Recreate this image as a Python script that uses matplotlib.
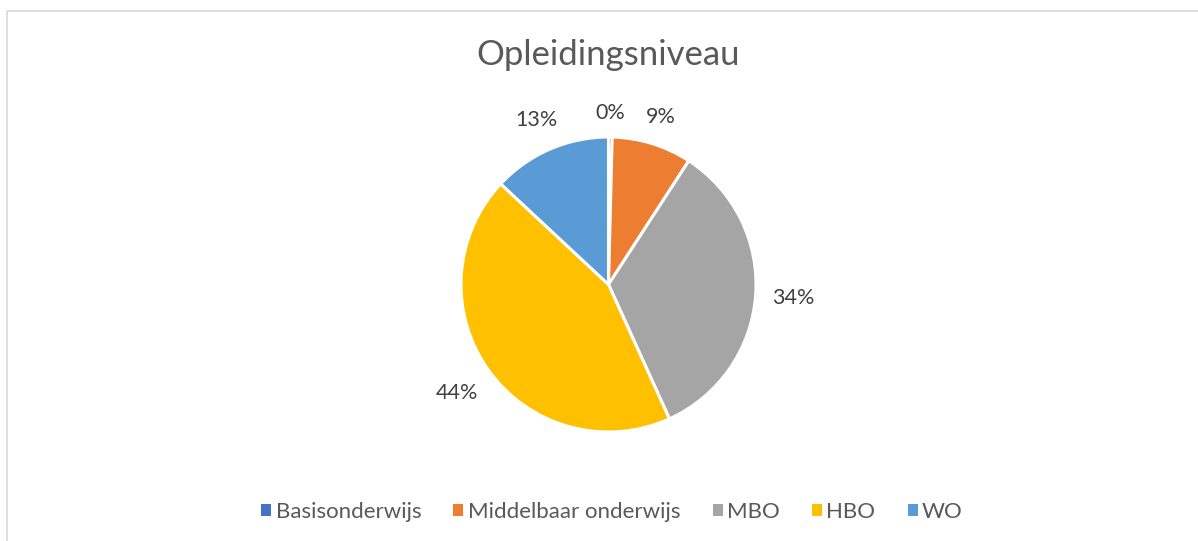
import numpy as np
import matplotlib.pyplot as plt
from matplotlib.patches import Rectangle

plt.rcParams['font.family'] = ['Lato', 'DejaVu Sans']

# categories and shares (percent)
labels = ['Basisonderwijs', 'Middelbaar onderwijs', 'MBO', 'HBO', 'WO']
shares = [0.4, 8.8, 34.2, 43.9, 13.1]
shown = ['0%', '9%', '34%', '44%', '13%']
colors = ['#4472C4', '#ED7D31', '#A5A5A5', '#FFC000', '#5B9BD5']

W, H = 1198, 541
fig = plt.figure(figsize=(W / 100, H / 100), dpi=100)

# light chart border (only top and left visible in the crop)
fig.patches.append(Rectangle((7 / W, -0.2), 2, (H - 11) / H + 0.2,
                             transform=fig.transFigure, fill=False,
                             edgecolor='#D9D9D9', linewidth=1.2))

cx, cy, r = 608.5, 284.5, 147.5
ax = fig.add_axes([(cx - r) / W, (H - cy - r) / H, 2 * r / W, 2 * r / H])

wedges, _ = ax.pie(shares, colors=colors, startangle=90, counterclock=False,
                   wedgeprops=dict(edgecolor='white', linewidth=2.2))
ax.set_xlim(-1, 1)
ax.set_ylim(-1, 1)
ax.set_aspect('equal')
ax.axis('off')

# data labels just outside the slice edge (Excel "outside end")
for w, txt in zip(wedges, shown):
    ang = np.deg2rad((w.theta1 + w.theta2) / 2)
    hw = 7.5 * len(txt)   # half text width, px
    hh = 9                # half text height, px
    d = (r + 15 + hw * abs(np.cos(ang)) + hh * abs(np.sin(ang))) / r
    ax.text(d * np.cos(ang), d * np.sin(ang), txt, ha='center', va='center',
            fontsize=15.5, color='#404040')

fig.text(608 / W, (H - 55) / H, 'Opleidingsniveau', ha='center', va='center',
         fontsize=25, color='#595959')

handles = [Rectangle((0, 0), 1, 1, facecolor=c) for c in colors]
fig.legend(handles, labels, loc='center', bbox_to_anchor=(612 / W, (H - 512) / H),
           ncol=5, frameon=False, fontsize=16, labelcolor='#595959',
           handlelength=0.45, handleheight=0.45, handletextpad=0.2,
           columnspacing=1.45)

fig.savefig('out.png', dpi=100)
